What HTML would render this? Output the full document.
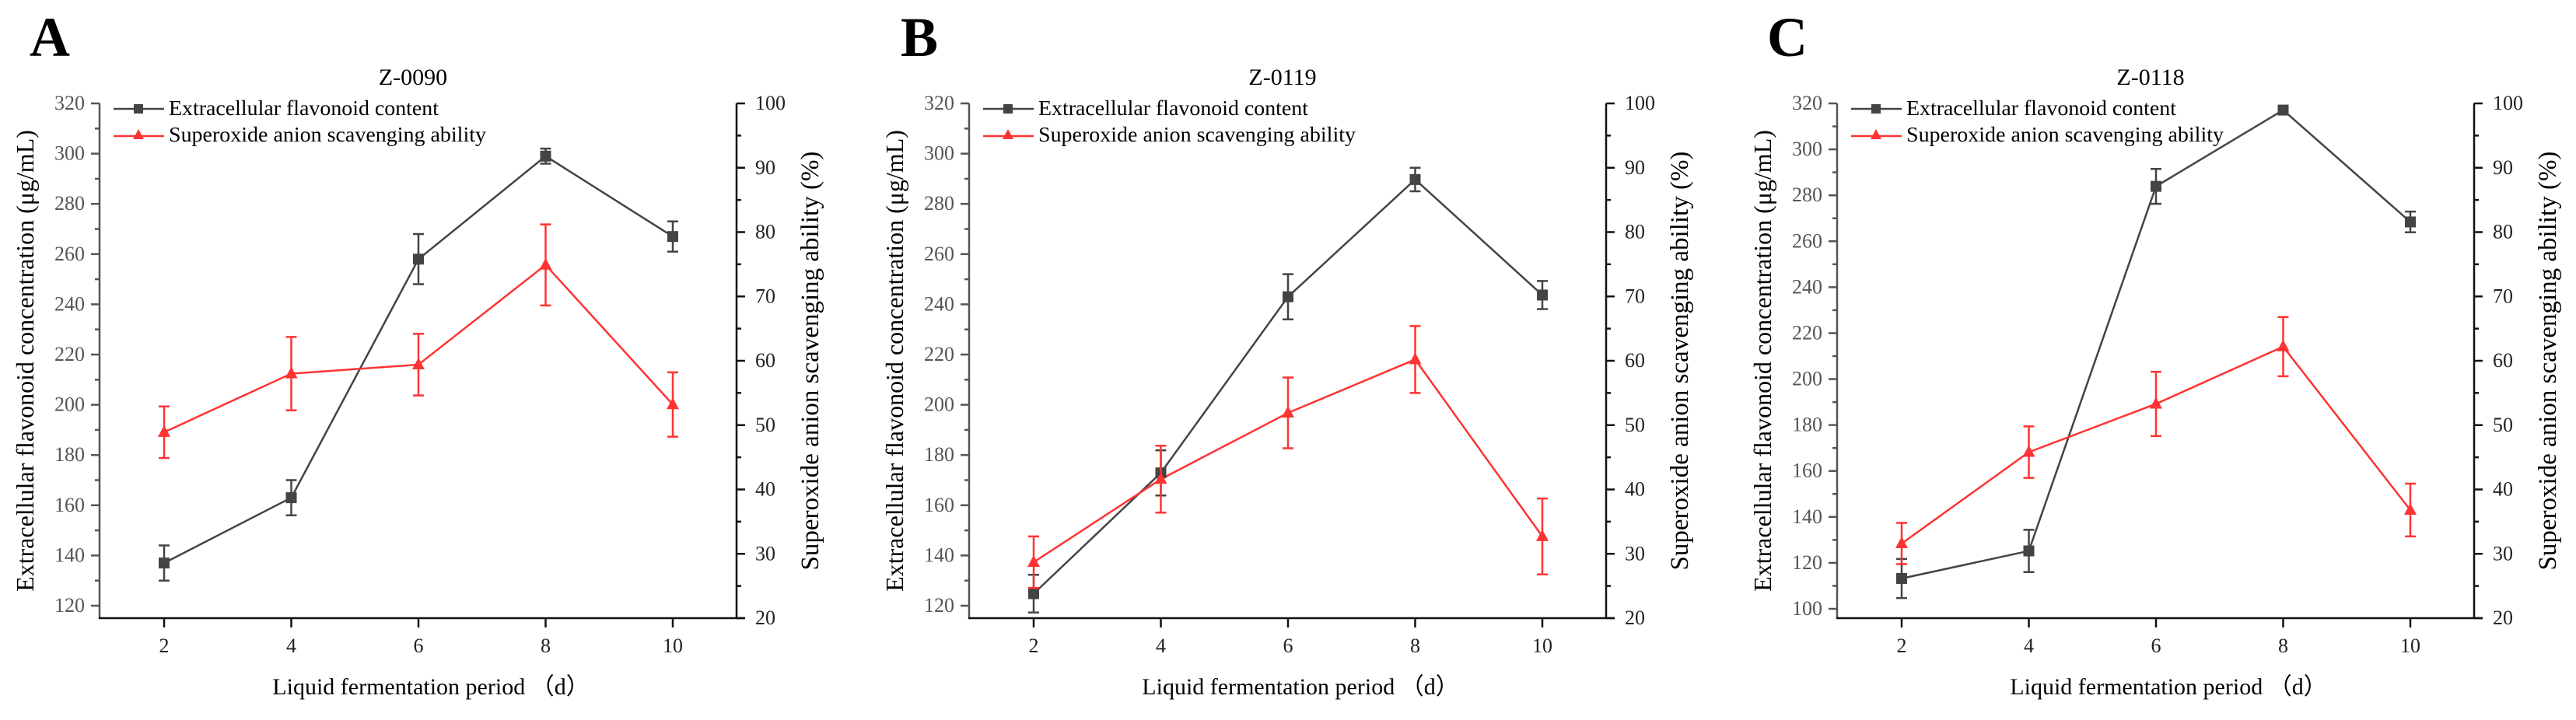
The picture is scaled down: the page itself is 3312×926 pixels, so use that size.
<!DOCTYPE html>
<html><head><meta charset="utf-8"><style>
html,body{margin:0;padding:0;background:#fff;}
svg{display:block;font-family:"Liberation Serif",serif;}
</style></head><body>
<svg id="chart" width="3312" height="926" viewBox="0 0 3312 926" xmlns="http://www.w3.org/2000/svg"></svg>
<script>
const days = [2, 4, 6, 8, 10];
const panelLetters = ["A", "B", "C"];
const panelTitles = ["Z-0090", "Z-0119", "Z-0118"];
const flavA = [137, 163, 258, 299, 267];
const flavAErr = [7, 7, 10, 3, 6];
const supA = [48.9, 58, 59.4, 74.9, 53.2];
const supAErr = [4, 5.7, 4.8, 6.3, 5];
const flavB = [124.8, 172.9, 243, 289.7, 243.7];
const flavBErr = [7.5, 9, 9, 4.7, 5.6];
const supB = [28.7, 41.6, 51.9, 60.2, 32.7];
const supBErr = [4, 5.2, 5.5, 5.2, 5.9];
const flavC = [113.2, 125.2, 283.9, 317.1, 268.4];
const flavCErr = [8.5, 9.2, 7.6, 1.5, 4.5];
const supC = [31.6, 45.8, 53.3, 62.2, 36.8];
const supCErr = [3.2, 4, 5, 4.6, 4.1];
const leftTicksAB = [120, 140, 160, 180, 200, 220, 240, 260, 280, 300, 320];
const leftTicksC = [100, 120, 140, 160, 180, 200, 220, 240, 260, 280, 300, 320];
const rightTicks = [20, 30, 40, 50, 60, 70, 80, 90, 100];
const xTicks = [2, 4, 6, 8, 10];

const NS = "http://www.w3.org/2000/svg";
const svg = document.getElementById("chart");
function mk(tag, attrs, parent, text) {
  const e = document.createElementNS(NS, tag);
  for (const k in attrs) e.setAttribute(k, attrs[k]);
  if (text !== undefined) e.textContent = text;
  (parent || svg).appendChild(e);
  return e;
}
const panels = [
  {off: 0, flav: flavA, fe: flavAErr, sup: supA, se: supAErr, lt: leftTicksAB},
  {off: 1118, flav: flavB, fe: flavBErr, sup: supB, se: supBErr, lt: leftTicksAB},
  {off: 2234, flav: flavC, fe: flavCErr, sup: supC, se: supCErr, lt: leftTicksC}
];
panels.forEach((p, i) => {
  const o = p.off;
  const L = 128 + o, R = 947 + o, T = 133, B = 795;
  const lmin = p.lt[0], lmax = p.lt[p.lt.length - 1];
  const ly0 = i === 2 ? 783 : 779;
  const yL = v => ly0 - (v - lmin) / (lmax - lmin) * (ly0 - T);
  const yR = v => B - (v - 20) / 80 * (B - T);
  const x = d => 211 + o + (d - 2) / 8 * 654;
  const g = mk("g", {}, svg);
  
  
  let t = mk("text", {x: 38 + o + (i === 1 ? 2 : 0), y: 72, "font-size": 72, "font-weight": "bold"}, g, panelLetters[i]);
  
  
  t = mk("text", {x: 531 + o, y: 109, "font-size": 30, "text-anchor": "middle"}, g, panelTitles[i]);
  
  
  let a = mk("line", {x1: L, y1: T, x2: L, y2: B + 1, stroke: "#555", "stroke-width": 2.5}, g);
  
  
  a = mk("line", {x1: R, y1: T, x2: R, y2: B + 1, stroke: "#111", "stroke-width": 2.5}, g);
  
  
  a = mk("line", {x1: L - 1, y1: B, x2: R + 11, y2: B, stroke: "#111", "stroke-width": 2.5}, g);
  
  
  p.lt.forEach((v, k) => {
    const yy = yL(v);
    mk("line", {x1: L - 11, y1: yy, x2: L, y2: yy, stroke: "#555", "stroke-width": 2.5}, g);
    if (k < p.lt.length - 1) { const ym = (yy + yL(p.lt[k + 1])) / 2; mk("line", {x1: L - 6, y1: ym, x2: L, y2: ym, stroke: "#555", "stroke-width": 2.5}, g); }
    const tl = mk("text", {x: L - 19, y: yy + 8, "font-size": 26, "text-anchor": "end", fill: "#555"}, g, v);
    
    
  });
  rightTicks.forEach((v, k) => {
    const yy = yR(v);
    mk("line", {x1: R, y1: yy, x2: R + 11, y2: yy, stroke: "#111", "stroke-width": 2.5}, g);
    if (k < rightTicks.length - 1) { const ym = (yy + yR(rightTicks[k + 1])) / 2; mk("line", {x1: R, y1: ym, x2: R + 6, y2: ym, stroke: "#111", "stroke-width": 2.5}, g); }
    const tl = mk("text", {x: R + 24, y: yy + 8, "font-size": 26, fill: "#222"}, g, v);
    
    
  });
  xTicks.forEach(v => {
    const xx = x(v);
    mk("line", {x1: xx, y1: B, x2: xx, y2: B + 12, stroke: "#111", "stroke-width": 2.5}, g);
    const tl = mk("text", {x: xx, y: 839, "font-size": 26, "text-anchor": "middle", fill: "#222"}, g, v);
    
    
  });
  t = mk("text", {x: 554 + o, y: 893, "font-size": 30, "text-anchor": "middle"}, g, "Liquid fermentation period （d）");
  
  
  t = mk("text", {x: 0, y: 0, "font-size": 32, "text-anchor": "middle", transform: `translate(${43 + o},464) rotate(-90)`}, g, "Extracellular flavonoid concentration (μg/mL)");
  
  
  t = mk("text", {x: 0, y: 0, "font-size": 33, "text-anchor": "middle", transform: `translate(${1052 + o},464) rotate(-90)`}, g, "Superoxide anion scavenging ability (%)");
  
  
  const blackPts = days.map((d, k) => x(d) + "," + yL(p.flav[k])).join(" ");
  let s = mk("polyline", {points: blackPts, fill: "none", stroke: "#444", "stroke-width": 2.5}, g);
  
  
  const redPts = days.map((d, k) => x(d) + "," + yR(p.sup[k])).join(" ");
  s = mk("polyline", {points: redPts, fill: "none", stroke: "#f33", "stroke-width": 2.5}, g);
  
  
  days.forEach((d, k) => {
    const xx = x(d);
    let y1 = yL(p.flav[k] + p.fe[k]), y2 = yL(p.flav[k] - p.fe[k]);
    const eb = mk("path", {d: `M${xx},${y1}V${y2}M${xx - 7},${y1}h14M${xx - 7},${y2}h14`, stroke: "#444", "stroke-width": 2.5, fill: "none"}, g);
    
    
    const yy = yL(p.flav[k]);
    const m = mk("rect", {x: xx - 7, y: yy - 7, width: 14, height: 14, fill: "#444"}, g);
    
    
    y1 = yR(p.sup[k] + p.se[k]); y2 = yR(p.sup[k] - p.se[k]);
    const eb2 = mk("path", {d: `M${xx},${y1}V${y2}M${xx - 7},${y1}h14M${xx - 7},${y2}h14`, stroke: "#f33", "stroke-width": 2.5, fill: "none"}, g);
    
    
    const yr = yR(p.sup[k]);
    const tr = mk("path", {d: `M${xx},${yr - 9}L${xx + 8},${yr + 6}L${xx - 8},${yr + 6}Z`, fill: "#f33"}, g);
    
    
  });
  const lg = mk("g", {}, g);
  
  
  mk("line", {x1: 146 + o, y1: 140, x2: 211 + o, y2: 140, stroke: "#444", "stroke-width": 2.5}, lg);
  mk("rect", {x: 172 + o, y: 134, width: 12, height: 12, fill: "#444"}, lg);
  let le = mk("text", {x: 217 + o, y: 148, "font-size": 27, textLength: 347, lengthAdjust: "spacingAndGlyphs"}, lg, "Extracellular flavonoid content");
  
  
  mk("line", {x1: 146 + o, y1: 175, x2: 211 + o, y2: 175, stroke: "#f33", "stroke-width": 2.5}, lg);
  mk("path", {d: `M${178 + o},${166}L${185 + o},${179}L${171 + o},${179}Z`, fill: "#f33"}, lg);
  le = mk("text", {x: 217 + o, y: 182, "font-size": 27, textLength: 408, lengthAdjust: "spacingAndGlyphs"}, lg, "Superoxide anion scavenging ability");
  
  
});
</script>
</body></html>
